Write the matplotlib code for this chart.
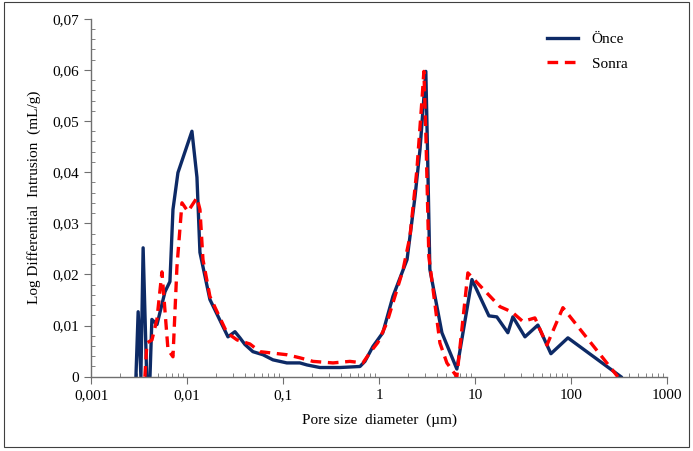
import matplotlib
matplotlib.use('Agg')
from matplotlib import pyplot as plt
from matplotlib.ticker import FixedLocator, MultipleLocator, LogLocator, NullFormatter
from matplotlib.patches import Rectangle

# Önce (before) - pore diameter (µm) and log differential intrusion (mL/g)
once_d = [0.00292, 0.00308, 0.00329, 0.00347, 0.00378, 0.00409, 0.00428, 0.00484,
          0.00586, 0.00660, 0.00710, 0.00800, 0.01119, 0.01262, 0.01356, 0.01722,
          0.02655, 0.0314, 0.0354, 0.0399, 0.0483, 0.0615, 0.0781, 0.109, 0.149,
          0.177, 0.241, 0.390, 0.630, 0.710, 0.859, 1.09, 1.39, 1.95, 2.36, 2.66,
          3.06, 3.18, 3.37, 4.50, 6.44, 9.25, 13.9, 16.8, 21.9, 24.7, 33.0, 45.0,
          61.5, 92.5, 330]
once_v = [0, 0.0127, 0, 0.0252, 0, 0, 0.0112, 0.0102,
          0.0166, 0.0186, 0.0327, 0.0399, 0.0480, 0.039, 0.0243, 0.0151,
          0.0078, 0.0088, 0.0076, 0.0063, 0.0049, 0.0043, 0.0033, 0.0027, 0.0027,
          0.0023, 0.0018, 0.0018, 0.0020, 0.0030, 0.0059, 0.0086, 0.0157, 0.0229, 0.0352, 0.0444,
          0.0597, 0.045, 0.021, 0.0086, 0.0015, 0.0190, 0.0119, 0.0117, 0.0086, 0.0117, 0.0078, 0.0101,
          0.0045, 0.0076, 0]

# Sonra (after)
sonra_d = [0.00362, 0.0038, 0.00429, 0.00483, 0.00545, 0.00630, 0.0071, 0.00781,
           0.00881, 0.01017, 0.01262, 0.01356, 0.01458, 0.01722, 0.0259, 0.033,
           0.045, 0.0571, 0.0710, 0.109, 0.149, 0.204, 0.330, 0.495, 0.676, 0.800,
           0.969, 1.20, 1.77, 2.09, 2.47, 2.79, 2.92, 3.06, 3.29, 4.29, 5.07, 6.44,
           8.39, 13.2, 18.1, 21.4, 24.7, 31.4, 41.9, 55.9, 82.0, 306]
sonra_v = [0, 0.0066, 0.0072, 0.0112, 0.0205, 0.0053, 0.0039, 0.0215,
           0.034, 0.0323, 0.035, 0.0327, 0.0229, 0.0157, 0.0086, 0.0072,
           0.0064, 0.0049, 0.0047, 0.0043, 0.0037, 0.0030, 0.0027, 0.0030, 0.0027, 0.0047,
           0.0067, 0.0105, 0.0209, 0.0274, 0.0405, 0.0542, 0.0597, 0.0477, 0.0235, 0.0066, 0.0027, 0.0,
           0.0203, 0.0164, 0.0137, 0.0131, 0.0125, 0.0108, 0.0115, 0.0062, 0.0135, 0]

x_ticks = [0.001, 0.01, 0.1, 1, 10, 100, 1000]
x_labels = ['0,001', '0,01', '0,1', '1', '10', '100', '1000']
y_ticks = [0, 0.01, 0.02, 0.03, 0.04, 0.05, 0.06, 0.07]
y_labels = ['0', '0,01', '0,02', '0,03', '0,04', '0,05', '0,06', '0,07']

plt.rcParams['font.family'] = ['Liberation Serif', 'DejaVu Serif']
plt.rcParams['font.size'] = 11

fig = plt.figure(figsize=(6.93, 4.51), dpi=100)
ax = fig.add_axes([0.1317, 0.1647, 0.831, 0.7938])

ax.plot(once_d, once_v, color='#0d2a66', lw=2.4, label='Önce', zorder=2)
ax.plot(sonra_d, sonra_v, color='#ff0000', lw=2.4, ls=(0, (3.2, 2.0)), label='Sonra', zorder=3)

ax.set_xscale('log')
ax.set_xlim(0.001, 1000)
ax.set_ylim(0, 0.07)

ax.xaxis.set_major_locator(FixedLocator(x_ticks))
ax.set_xticklabels(x_labels)
ax.xaxis.set_minor_locator(LogLocator(base=10, subs=range(2, 10), numticks=20))
ax.xaxis.set_minor_formatter(NullFormatter())
ax.yaxis.set_major_locator(FixedLocator(y_ticks))
ax.set_yticklabels(y_labels)
ax.yaxis.set_minor_locator(MultipleLocator(0.002))

for side in ['top', 'right']:
    ax.spines[side].set_visible(False)
for side in ['left', 'bottom']:
    ax.spines[side].set_color('#6f6f6f')
    ax.spines[side].set_linewidth(1.0)

ax.tick_params(which='major', direction='out', length=5, color='#6f6f6f', pad=4, labelsize=11)
ax.tick_params(which='minor', direction='in', length=3, color='#6f6f6f')

ax.set_xlabel('Pore size  diameter  (µm)', fontsize=11, labelpad=8)
ax.set_ylabel('Log Differential  Intrusion  (mL/g)', fontsize=11, labelpad=8)

ax.legend(loc='upper right', bbox_to_anchor=(0.955, 1.0), frameon=False, fontsize=11,
          handlelength=2.0, handletextpad=0.9, labelspacing=0.7)

fig.patches.append(Rectangle((0.006, 0.008), 0.988, 0.988, transform=fig.transFigure,
                             fill=False, edgecolor='#404040', lw=0.8))

plt.savefig('out.png', dpi=100)
